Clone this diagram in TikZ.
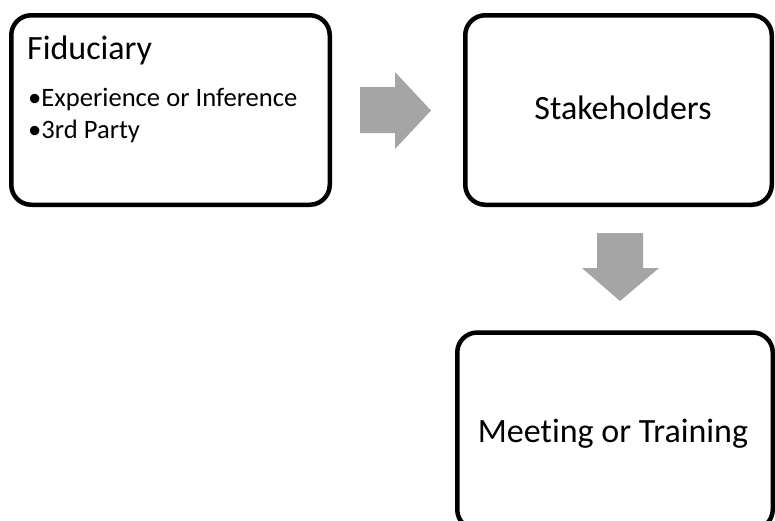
\documentclass[tikz,border=0pt]{standalone}
\usepackage{fontspec}
\setmainfont{Carlito}[Ligatures={NoCommon}]
\definecolor{arrowgray}{HTML}{A5A5A5}
\begin{document}
\begin{tikzpicture}[x=1pt,y=1pt,
  box/.style={draw=black, line width=4.5pt, rounded corners=20pt, fill=white, inner sep=0pt},
  title/.style={font=\fontsize{34}{40}\selectfont, inner sep=0pt},
  bullet/.style={font=\fontsize{26.6}{32}\selectfont, inner sep=0pt, anchor=base west},
  blockarrow/.style={fill=arrowgray, draw=none}]
  \useasboundingbox (0,0) rectangle (775,-520);

  % three process boxes
  \node[box, minimum width=318.5pt, minimum height=189.5pt] (fid) at (170.5,-110) {};
  \node[box, minimum width=306.5pt, minimum height=189.5pt] (stake) at (618.5,-110) {};
  \node[box, minimum width=315.5pt, minimum height=197pt] (meet) at (615,-431) {};

  % box texts
  \node[title, anchor=base west] (fidtitle) at (27,-59) {Fiduciary};
  \node[bullet] (b1) at (28,-106) {•Experience or Inference};
  \node[bullet] (b2) at (28,-138) {•3rd Party};
  \node[title, anchor=base] (staketext) at (623,-119) {Stakeholders};
  \node[title, anchor=base] (meettext) at (613,-442) {Meeting or Training};

  % block arrows between the boxes
  \fill[blockarrow] (360,-87) -- (395,-87) -- (395,-72) -- (431,-110.5)
        -- (395,-149) -- (395,-133) -- (360,-133) -- cycle;
  \fill[blockarrow] (597,-233) -- (643,-233) -- (643,-268) -- (659,-268)
        -- (620,-301) -- (582,-268) -- (597,-268) -- cycle;
\end{tikzpicture}
\end{document}
